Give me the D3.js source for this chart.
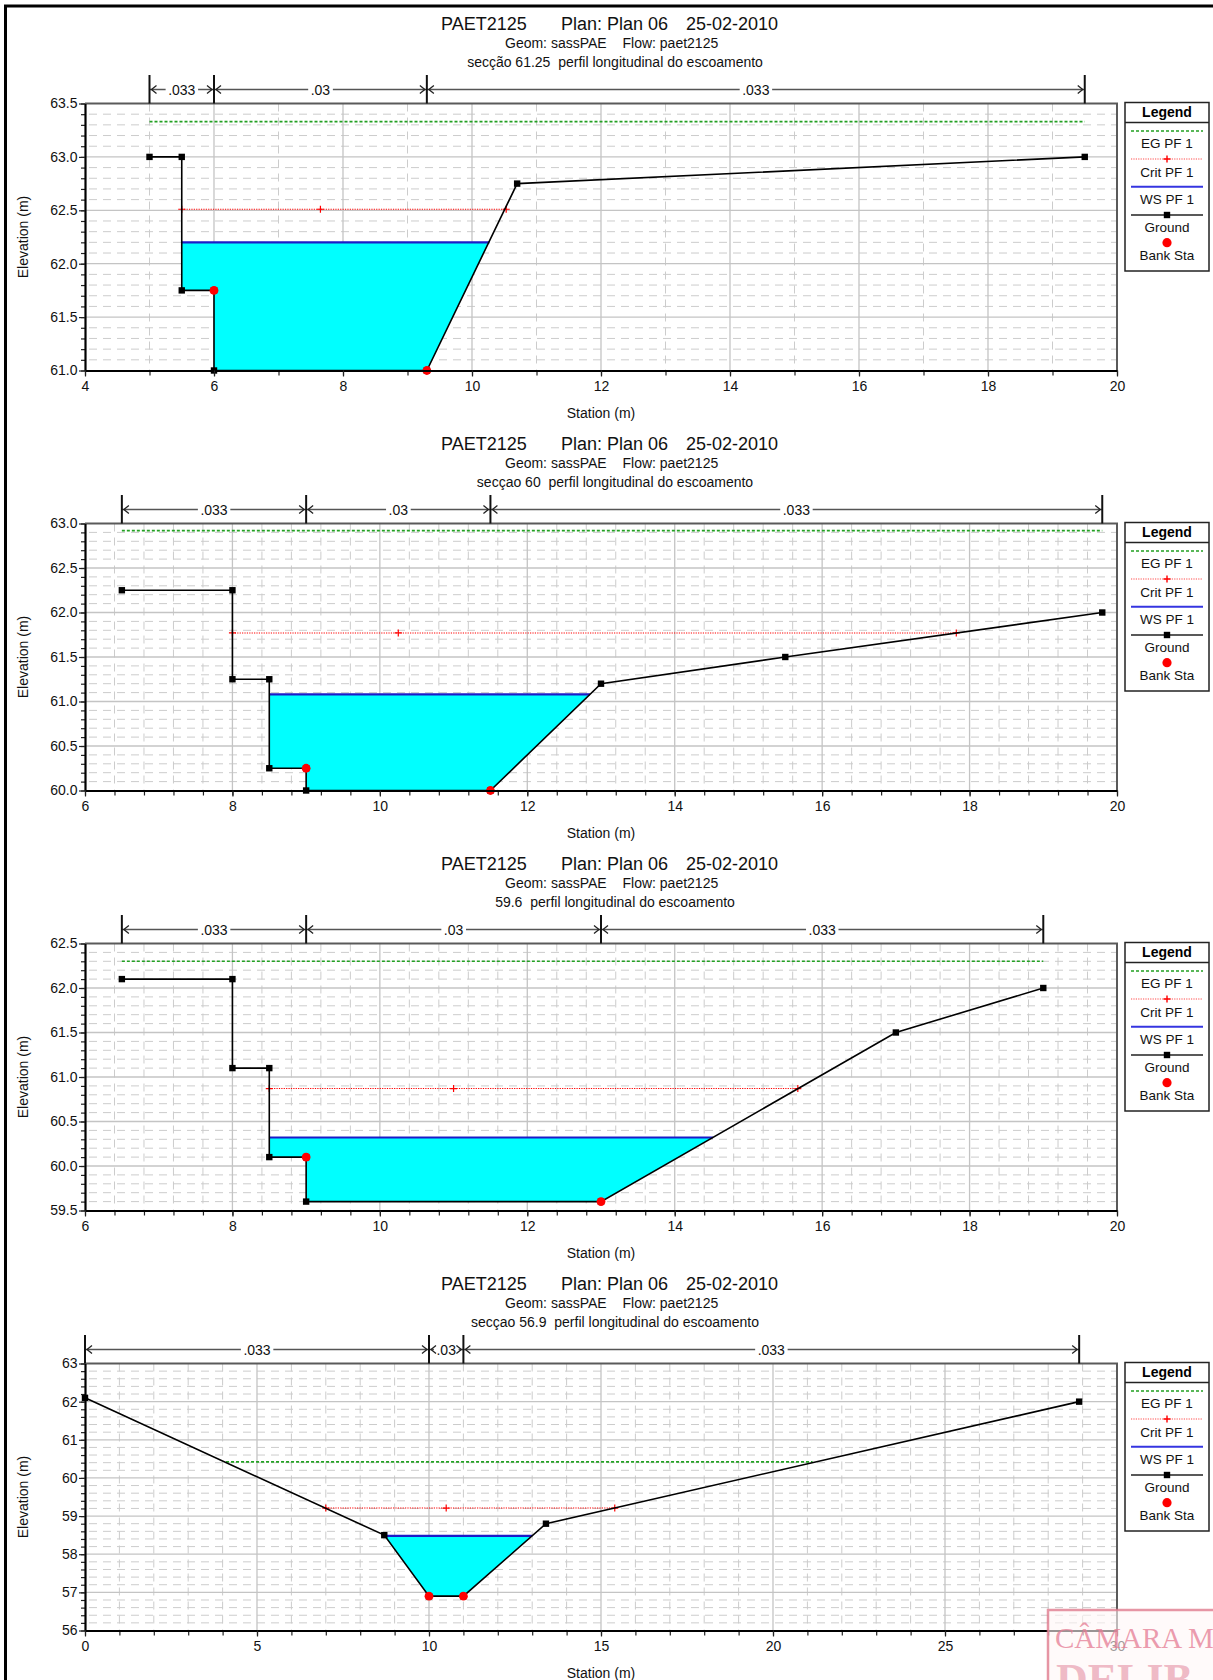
<!DOCTYPE html>
<html><head><meta charset="utf-8">
<script src="https://cdn.jsdelivr.net/npm/d3@7"></script>
<style>
html,body{margin:0;padding:0;background:#fff;}
svg{display:block;font-family:"Liberation Sans",Arial,Helvetica,sans-serif;}
</style></head>
<body>
<script>
// ---------- DATA ----------
const titleProject = "PAET2125";
const titlePlan = "Plan: Plan 06";
const titleDate = "25-02-2010";
const subGeom = "Geom: sassPAE";
const subFlow = "Flow: paet2125";
const sectionLabels = [
  "secção 61.25  perfil longitudinal do escoamento",
  "secçao 60  perfil longitudinal do escoamento",
  "59.6  perfil longitudinal do escoamento",
  "secçao 56.9  perfil longitudinal do escoamento"
];
const legendLabels = ["EG PF 1", "Crit PF 1", "WS PF 1", "Ground", "Bank Sta"];
const nValues = [".033", ".03", ".033"];

// Panel 1 — secção 61.25
const ground1 = [[5.0,63.0],[5.5,63.0],[5.5,61.75],[6.0,61.75],[6.0,61.0],[9.3,61.0],[10.7,62.75],[19.5,63.0]];
const bank1 = [[6.0,61.75],[9.3,61.0]];
const ws1 = {elev:62.2, from:5.5, to:10.27};
const crit1 = {elev:62.51, stations:[5.5,7.65,10.53]};
const eg1 = {elev:63.33, from:5.0, to:19.5};
const nBounds1 = [5.0,6.0,9.3,19.5];
const xTicks1 = [4,6,8,10,12,14,16,18,20];
const yTicks1 = [61.0,61.5,62.0,62.5,63.0,63.5];

// Panel 2 — secçao 60
const ground2 = [[6.5,62.25],[8.0,62.25],[8.0,61.25],[8.5,61.25],[8.5,60.25],[9.0,60.25],[9.0,60.0],[11.5,60.0],[13.0,61.2],[15.5,61.5],[19.8,62.0]];
const bank2 = [[9.0,60.25],[11.5,60.0]];
const ws2 = {elev:61.08, from:8.5, to:12.85};
const crit2 = {elev:61.77, stations:[8.0,10.25,17.82]};
const eg2 = {elev:62.92, from:6.5, to:19.8};
const nBounds2 = [6.5,9.0,11.5,19.8];
const xTicks2 = [6,8,10,12,14,16,18,20];
const yTicks2 = [60.0,60.5,61.0,61.5,62.0,62.5,63.0];

// Panel 3 — 59.6
const ground3 = [[6.5,62.1],[8.0,62.1],[8.0,61.1],[8.5,61.1],[8.5,60.1],[9.0,60.1],[9.0,59.6],[13.0,59.6],[17.0,61.5],[19.0,62.0]];
const bank3 = [[9.0,60.1],[13.0,59.6]];
const ws3 = {elev:60.32, from:8.5, to:14.52};
const crit3 = {elev:60.87, stations:[8.5,11.0,15.67]};
const eg3 = {elev:62.30, from:6.5, to:19.0};
const nBounds3 = [6.5,9.0,13.0,19.0];
const xTicks3 = [6,8,10,12,14,16,18,20];
const yTicks3 = [59.5,60.0,60.5,61.0,61.5,62.0,62.5];

// Panel 4 — secçao 56.9
const ground4 = [[0,62.1],[8.7,58.5],[10.0,56.9],[11.0,56.9],[13.4,58.8],[28.9,62.0]];
const bank4 = [[10.0,56.9],[11.0,56.9]];
const ws4 = {elev:58.48, from:8.72, to:13.0};
const crit4 = {elev:59.21, stations:[7.0,10.5,15.4]};
const eg4 = {elev:60.42, from:4.1, to:21.15};
const nBounds4 = [0,10,11,28.9];
const xTicks4 = [0,5,10,15,20,25,30];
const yTicks4 = [56,57,58,59,60,61,62,63];

const panels = [
  {ground:ground1, bank:bank1, ws:ws1, crit:crit1, eg:eg1, nb:nBounds1, xt:xTicks1, yt:yTicks1, xMinor:1, yMinor:0.1, fmt:".1f"},
  {ground:ground2, bank:bank2, ws:ws2, crit:crit2, eg:eg2, nb:nBounds2, xt:xTicks2, yt:yTicks2, xMinor:0.4, yMinor:0.1, fmt:".1f"},
  {ground:ground3, bank:bank3, ws:ws3, crit:crit3, eg:eg3, nb:nBounds3, xt:xTicks3, yt:yTicks3, xMinor:0.4, yMinor:0.1, fmt:".1f"},
  {ground:ground4, bank:bank4, ws:ws4, crit:crit4, eg:eg4, nb:nBounds4, xt:xTicks4, yt:yTicks4, xMinor:1, yMinor:0.2, fmt:"d"}
];

// ---------- LAYOUT ----------
const W = 1213, H = 1680, PH = 420;
const L = 85, R = 1117, T = 103.5, B = 370.5;
const C = {eg:"#22a022", crit:"#ff0000", ws:"#1c1cc8", water:"#00ffff", ground:"#000", bank:"#ff0000",
           gridMaj:"#c4c4c4", gridMin:"#cccccc"};

const svg = d3.select("body").append("svg").attr("width", W).attr("height", H);
svg.append("rect").attr("width", W).attr("height", H).attr("fill", "#fff");

function near(v, arr){ return arr.some(a => Math.abs(a - v) < 1e-6); }

panels.forEach((p, i) => {
  const g = svg.append("g").attr("transform", `translate(0,${i*PH})`);
  const x = d3.scaleLinear().domain(d3.extent(p.xt)).range([L, R]);
  const y = d3.scaleLinear().domain(d3.extent(p.yt)).range([B, T]);
  const [x0, x1] = x.domain(), [y0, y1] = y.domain();
  const xMinorVals = d3.range(Math.round((x1 - x0)/p.xMinor) + 1).map(k => +(x0 + k*p.xMinor).toFixed(4));
  const yMinorVals = d3.range(Math.round((y1 - y0)/p.yMinor) + 1).map(k => +(y0 + k*p.yMinor).toFixed(4));

  // titles
  const tg = g.append("g").attr("fill", "#111");
  tg.append("text").attr("x", 441).attr("y", 30).attr("font-size", 18).text(titleProject);
  tg.append("text").attr("x", 561).attr("y", 30).attr("font-size", 18).text(titlePlan);
  tg.append("text").attr("x", 686).attr("y", 30).attr("font-size", 18).text(titleDate);
  tg.append("text").attr("x", 505).attr("y", 48).attr("font-size", 14).text(subGeom);
  tg.append("text").attr("x", 622.5).attr("y", 48).attr("font-size", 14).text(subFlow);
  tg.append("text").attr("x", 615).attr("y", 66.5).attr("font-size", 14).attr("text-anchor", "middle")
    .attr("xml:space", "preserve").style("white-space", "pre").text(sectionLabels[i]);

  // plot background
  g.append("rect").attr("x", L).attr("y", T).attr("width", R-L).attr("height", B-T).attr("fill", "#fff");

  // minor dashed grid
  const grid = g.append("g");
  xMinorVals.filter(v => !near(v, p.xt)).forEach(v => {
    grid.append("line").attr("x1", x(v)).attr("x2", x(v)).attr("y1", T).attr("y2", B)
      .attr("stroke", C.gridMin).attr("stroke-width", 1).attr("stroke-dasharray", "8,6");
  });
  yMinorVals.filter(v => !near(v, p.yt)).forEach(v => {
    grid.append("line").attr("x1", L).attr("x2", R).attr("y1", y(v)).attr("y2", y(v))
      .attr("stroke", C.gridMin).attr("stroke-width", 1).attr("stroke-dasharray", "8,6")
      .attr("stroke-dashoffset", -4);
  });
  // major solid grid
  p.xt.slice(1, -1).forEach(v => {
    grid.append("line").attr("x1", x(v)).attr("x2", x(v)).attr("y1", T).attr("y2", B)
      .attr("stroke", C.gridMaj).attr("stroke-width", 1.3);
  });
  p.yt.slice(1, -1).forEach(v => {
    grid.append("line").attr("x1", L).attr("x2", R).attr("y1", y(v)).attr("y2", y(v))
      .attr("stroke", C.gridMaj).attr("stroke-width", 1.3);
  });

  // water fill (below WS, above ground)
  const clipId = "above" + i;
  const gp = p.ground.map(d => [x(d[0]), y(d[1])]);
  const poly = gp.concat([[gp[gp.length-1][0], T - 60], [gp[0][0], T - 60]]);
  g.append("clipPath").attr("id", clipId).append("polygon").attr("points", poly.map(d => d.join(",")).join(" "));
  g.append("rect").attr("x", x(p.ws.from)).attr("y", y(p.ws.elev))
    .attr("width", x(p.ws.to) - x(p.ws.from)).attr("height", B - y(p.ws.elev))
    .attr("fill", C.water).attr("clip-path", `url(#${clipId})`);

  // EG
  g.append("line").attr("x1", x(p.eg.from)).attr("x2", x(p.eg.to)).attr("y1", y(p.eg.elev)).attr("y2", y(p.eg.elev))
    .attr("stroke", C.eg).attr("stroke-width", 1.6).attr("stroke-dasharray", "3,2");
  // Crit
  const cs = p.crit.stations;
  g.append("line").attr("x1", x(cs[0])).attr("x2", x(cs[cs.length-1])).attr("y1", y(p.crit.elev)).attr("y2", y(p.crit.elev))
    .attr("stroke", C.crit).attr("stroke-width", 1.1).attr("stroke-dasharray", "1.2,1.2");
  cs.forEach(s => {
    const cx = x(s), cy = y(p.crit.elev);
    g.append("path").attr("d", `M${cx-3.5},${cy}H${cx+3.5}M${cx},${cy-3.5}V${cy+3.5}`)
      .attr("stroke", C.crit).attr("stroke-width", 1.2);
  });
  // WS
  g.append("line").attr("x1", x(p.ws.from)).attr("x2", x(p.ws.to)).attr("y1", y(p.ws.elev)).attr("y2", y(p.ws.elev))
    .attr("stroke", C.ws).attr("stroke-width", 2.2);
  // Ground
  g.append("path").datum(p.ground)
    .attr("d", d3.line().x(d => x(d[0])).y(d => y(d[1])))
    .attr("fill", "none").attr("stroke", C.ground).attr("stroke-width", 1.6);
  g.selectAll(null).data(p.ground).join("rect")
    .attr("x", d => x(d[0]) - 3.2).attr("y", d => y(d[1]) - 3.2).attr("width", 6.4).attr("height", 6.4).attr("fill", "#000");
  g.selectAll(null).data(p.bank).join("circle")
    .attr("cx", d => x(d[0])).attr("cy", d => y(d[1])).attr("r", 4.4).attr("fill", C.bank);

  // frame: top/right gray
  g.append("path").attr("d", `M${L},${T}H${R}V${B}`).attr("fill", "none").attr("stroke", "#5a5a5a").attr("stroke-width", 2);

  // axes
  const fmt = d3.format(p.fmt);
  const ax = g.append("g").attr("font-size", 14);
  const yMinorAxis = ax.append("g").attr("transform", `translate(${L},0)`)
    .call(d3.axisLeft(y).tickValues(yMinorVals).tickSize(4).tickSizeOuter(0).tickFormat(""));
  const yAxis = ax.append("g").attr("transform", `translate(${L},0)`)
    .call(d3.axisLeft(y).tickValues(p.yt).tickSize(6).tickSizeOuter(0).tickPadding(1.5).tickFormat(fmt));
  const xMinorAxis = ax.append("g").attr("transform", `translate(0,${B})`)
    .call(d3.axisBottom(x).tickValues(xMinorVals).tickSize(5).tickSizeOuter(0).tickFormat(""));
  const xAxis = ax.append("g").attr("transform", `translate(0,${B})`)
    .call(d3.axisBottom(x).tickValues(p.xt).tickSize(6).tickSizeOuter(0).tickPadding(5).tickFormat(d3.format("d")));
  [yMinorAxis, yAxis, xMinorAxis, xAxis].forEach(a => {
    a.attr("font-family", null).attr("font-size", 14);
    a.selectAll("line").attr("stroke", "#222").attr("stroke-width", 1.2);
    a.selectAll("text").attr("fill", "#111");
  });
  [yAxis, xAxis].forEach(a => a.select(".domain").attr("stroke", "#000").attr("stroke-width", 2.2));
  [yMinorAxis, xMinorAxis].forEach(a => a.select(".domain").remove());

  // axis titles
  g.append("text").attr("x", (L+R)/2).attr("y", 418).attr("text-anchor", "middle").attr("font-size", 14)
    .attr("fill", "#111").text("Station (m)");
  g.append("text").attr("transform", `translate(28,${(T+B)/2}) rotate(-90)`).attr("text-anchor", "middle")
    .attr("font-size", 14).attr("fill", "#111").text("Elevation (m)");

  // Manning's n bar
  const nb = p.nb, barY = 89.5;
  const ng = g.append("g");
  ng.append("line").attr("x1", x(nb[0])).attr("x2", x(nb[nb.length-1])).attr("y1", barY).attr("y2", barY)
    .attr("stroke", "#555").attr("stroke-width", 1.4);
  nValues.forEach((lab, k) => {
    const a = x(nb[k]), b = x(nb[k+1]), m = (a + b) / 2;
    const t = ng.append("text").attr("x", m).attr("y", barY + 5).attr("text-anchor", "middle")
      .attr("font-size", 14).attr("fill", "#111").text(lab);
    const bb = t.node().getBBox();
    ng.insert("rect", "text").attr("x", bb.x - 2.5).attr("y", barY - 3).attr("width", bb.width + 5).attr("height", 6).attr("fill", "#fff");
    ng.append("path").attr("d", `M${a+7},${barY-4}L${a+2},${barY}L${a+7},${barY+4}`)
      .attr("fill", "none").attr("stroke", "#222").attr("stroke-width", 1.3);
    ng.append("path").attr("d", `M${b-7},${barY-4}L${b-2},${barY}L${b-7},${barY+4}`)
      .attr("fill", "none").attr("stroke", "#222").attr("stroke-width", 1.3);
  });
  nb.forEach(s => {
    ng.append("line").attr("x1", x(s)).attr("x2", x(s)).attr("y1", 75).attr("y2", T)
      .attr("stroke", "#111").attr("stroke-width", 2);
  });

  // legend
  const lg = g.append("g");
  lg.append("rect").attr("x", 1125).attr("y", 102.5).attr("width", 84).attr("height", 168.5)
    .attr("fill", "#fff").attr("stroke", "#222").attr("stroke-width", 1.5);
  lg.append("line").attr("x1", 1125).attr("x2", 1209).attr("y1", 122.5).attr("y2", 122.5).attr("stroke", "#222").attr("stroke-width", 1.3);
  lg.append("text").attr("x", 1167).attr("y", 116.5).attr("text-anchor", "middle").attr("font-size", 14)
    .attr("font-weight", "bold").attr("fill", "#000").text("Legend");
  const lx0 = 1131, lx1 = 1203, lmx = 1167;
  lg.append("line").attr("x1", lx0).attr("x2", lx1).attr("y1", 131).attr("y2", 131)
    .attr("stroke", C.eg).attr("stroke-width", 1.6).attr("stroke-dasharray", "3,2");
  lg.append("line").attr("x1", lx0).attr("x2", lx1).attr("y1", 159).attr("y2", 159)
    .attr("stroke", C.crit).attr("stroke-width", 1).attr("stroke-dasharray", "1.2,1.2").attr("opacity", 0.7);
  lg.append("path").attr("d", `M${lmx-3.5},159H${lmx+3.5}M${lmx},155.5V162.5`).attr("stroke", C.crit).attr("stroke-width", 1.4);
  lg.append("line").attr("x1", lx0).attr("x2", lx1).attr("y1", 186.7).attr("y2", 186.7)
    .attr("stroke", "#3535e0").attr("stroke-width", 2);
  lg.append("line").attr("x1", lx0).attr("x2", lx1).attr("y1", 215).attr("y2", 215)
    .attr("stroke", "#222").attr("stroke-width", 1.6);
  lg.append("rect").attr("x", lmx-3.2).attr("y", 211.8).attr("width", 6.4).attr("height", 6.4).attr("fill", "#000");
  lg.append("circle").attr("cx", lmx).attr("cy", 242.7).attr("r", 4.6).attr("fill", C.bank);
  const ly = [148, 176.5, 204, 232, 260];
  legendLabels.forEach((lab, k) => {
    lg.append("text").attr("x", lmx).attr("y", ly[k]).attr("text-anchor", "middle").attr("font-size", 13.5)
      .attr("fill", "#111").text(lab);
  });
});

// outer frame
svg.append("path").attr("d", `M5.5,${H+10}V6H${W+10}`).attr("fill", "none").attr("stroke", "#000").attr("stroke-width", 3);

// stamp overlay (bottom right)
const st = svg.append("g");
st.append("rect").attr("x", 1048).attr("y", 1610).attr("width", 200).attr("height", 100)
  .attr("fill", "#fff6f6").attr("fill-opacity", 0.6).attr("stroke", "#e07c8e").attr("stroke-width", 2.5).attr("stroke-opacity", 0.8);
st.append("text").attr("x", 1055).attr("y", 1648).attr("font-family", "'Liberation Serif','DejaVu Serif',serif")
  .attr("font-size", 29).attr("fill", "#e57c94").attr("fill-opacity", 0.75).text("CÂMARA M");
st.append("text").attr("x", 1056).attr("y", 1694).attr("font-family", "'Liberation Serif','DejaVu Serif',serif")
  .attr("font-size", 44).attr("font-weight", "bold").attr("fill", "#e07a92").attr("fill-opacity", 0.5).text("DELIB");
</script>
</body></html>
